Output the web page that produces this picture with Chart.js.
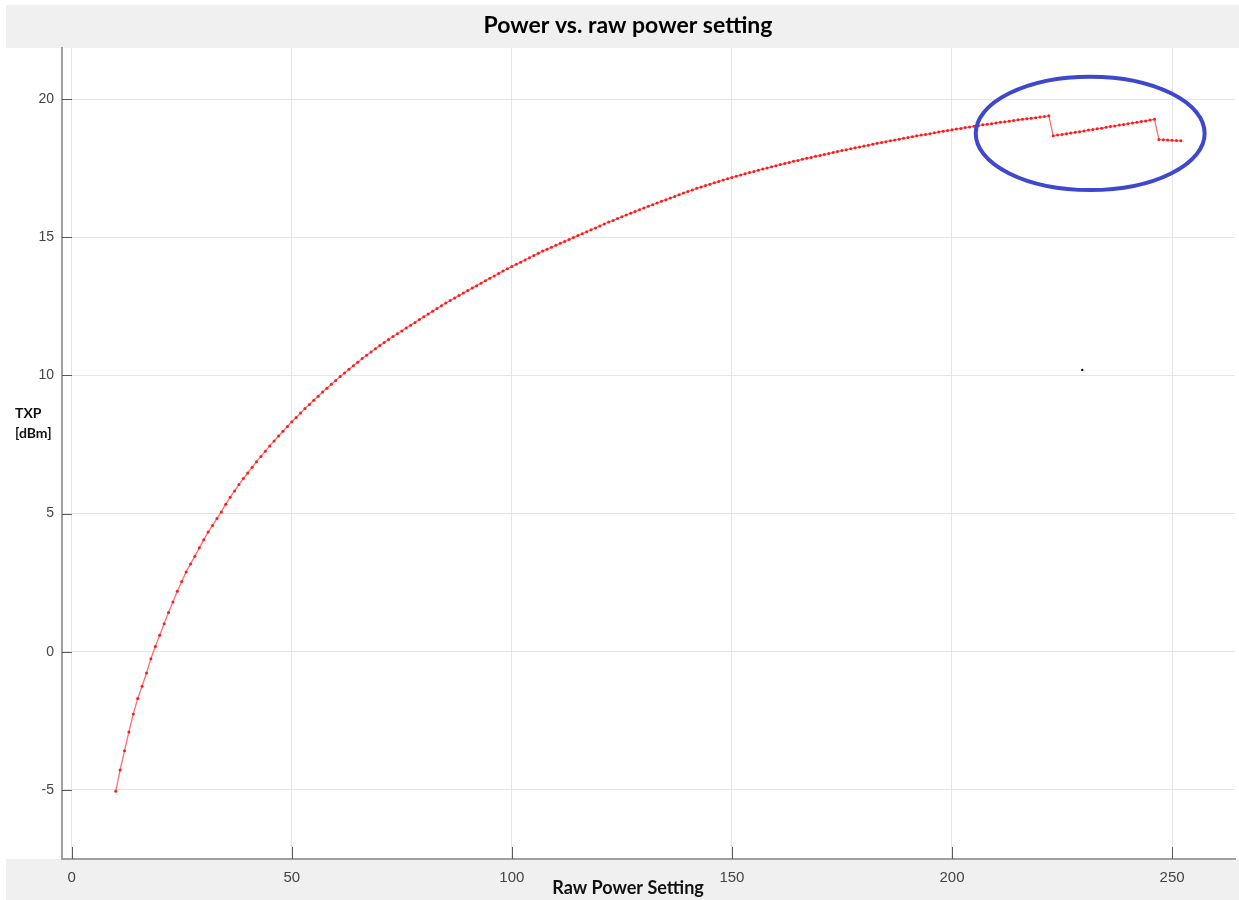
<!DOCTYPE html>
<html>
<head>
<meta charset="utf-8">
<script src="https://cdn.jsdelivr.net/npm/chart.js@4"></script>
<style>
  html, body { margin: 0; padding: 0; background: #fff; }
  #wrap { width: 1239px; height: 900px; }
</style>
</head>
<body>
<div id="wrap"><canvas id="myChart" width="1239" height="900"></canvas></div>
<script>
const rawSetting = [
  10, 11, 12, 13, 14, 15, 16, 17, 18, 19,
  20, 21, 22, 23, 24, 25, 26, 27, 28, 29,
  30, 31, 32, 33, 34, 35, 36, 37, 38, 39,
  40, 41, 42, 43, 44, 45, 46, 47, 48, 49,
  50, 51, 52, 53, 54, 55, 56, 57, 58, 59,
  60, 61, 62, 63, 64, 65, 66, 67, 68, 69,
  70, 71, 72, 73, 74, 75, 76, 77, 78, 79,
  80, 81, 82, 83, 84, 85, 86, 87, 88, 89,
  90, 91, 92, 93, 94, 95, 96, 97, 98, 99,
  100, 101, 102, 103, 104, 105, 106, 107, 108, 109,
  110, 111, 112, 113, 114, 115, 116, 117, 118, 119,
  120, 121, 122, 123, 124, 125, 126, 127, 128, 129,
  130, 131, 132, 133, 134, 135, 136, 137, 138, 139,
  140, 141, 142, 143, 144, 145, 146, 147, 148, 149,
  150, 151, 152, 153, 154, 155, 156, 157, 158, 159,
  160, 161, 162, 163, 164, 165, 166, 167, 168, 169,
  170, 171, 172, 173, 174, 175, 176, 177, 178, 179,
  180, 181, 182, 183, 184, 185, 186, 187, 188, 189,
  190, 191, 192, 193, 194, 195, 196, 197, 198, 199,
  200, 201, 202, 203, 204, 205, 206, 207, 208, 209,
  210, 211, 212, 213, 214, 215, 216, 217, 218, 219,
  220, 221, 222, 223, 224, 225, 226, 227, 228, 229,
  230, 231, 232, 233, 234, 235, 236, 237, 238, 239,
  240, 241, 242, 243, 244, 245, 246, 247, 248, 249,
  250, 251, 252
];

const txpDbm = [
  -5.05, -4.28, -3.58, -2.90, -2.25, -1.69, -1.25, -0.77, -0.25, 0.19,
  0.60, 1.01, 1.42, 1.80, 2.19, 2.54, 2.89, 3.18, 3.46, 3.76,
  4.05, 4.33, 4.57, 4.82, 5.06, 5.34, 5.59, 5.82, 6.05, 6.27,
  6.47, 6.68, 6.88, 7.07, 7.26, 7.45, 7.63, 7.81, 7.98, 8.15,
  8.32, 8.48, 8.64, 8.80, 8.95, 9.10, 9.25, 9.40, 9.54, 9.68,
  9.82, 9.96, 10.09, 10.22, 10.35, 10.48, 10.61, 10.73, 10.85, 10.97,
  11.08, 11.19, 11.30, 11.41, 11.51, 11.61, 11.72, 11.82, 11.92, 12.02,
  12.12, 12.22, 12.32, 12.42, 12.52, 12.62, 12.71, 12.80, 12.89, 12.98,
  13.07, 13.16, 13.25, 13.34, 13.43, 13.52, 13.60, 13.69, 13.78, 13.86,
  13.94, 14.02, 14.10, 14.18, 14.26, 14.34, 14.42, 14.50, 14.57, 14.64,
  14.71, 14.78, 14.85, 14.92, 14.99, 15.06, 15.13, 15.20, 15.27, 15.34,
  15.41, 15.48, 15.55, 15.61, 15.68, 15.74, 15.81, 15.87, 15.93, 16.00,
  16.06, 16.12, 16.18, 16.24, 16.30, 16.36, 16.42, 16.48, 16.54, 16.60,
  16.66, 16.71, 16.77, 16.82, 16.87, 16.92, 16.97, 17.02, 17.07, 17.12,
  17.16, 17.21, 17.25, 17.30, 17.34, 17.38, 17.43, 17.47, 17.51, 17.55,
  17.59, 17.63, 17.67, 17.71, 17.75, 17.78, 17.82, 17.86, 17.89, 17.93,
  17.96, 18.00, 18.03, 18.07, 18.10, 18.14, 18.17, 18.20, 18.24, 18.27,
  18.30, 18.33, 18.37, 18.40, 18.43, 18.46, 18.49, 18.52, 18.55, 18.58,
  18.61, 18.64, 18.67, 18.70, 18.72, 18.75, 18.78, 18.81, 18.84, 18.86,
  18.89, 18.92, 18.94, 18.97, 18.99, 19.02, 19.04, 19.07, 19.09, 19.11,
  19.14, 19.16, 19.18, 19.20, 19.23, 19.25, 19.27, 19.29, 19.31, 19.33,
  19.35, 19.37, 19.40, 18.67, 18.70, 18.72, 18.75, 18.77, 18.80, 18.82,
  18.85, 18.88, 18.90, 18.93, 18.95, 18.98, 19.01, 19.03, 19.06, 19.08,
  19.11, 19.14, 19.16, 19.19, 19.21, 19.24, 19.27, 18.54, 18.53, 18.52,
  18.51, 18.50, 18.49
];

const xTicks = [0, 50, 100, 150, 200, 250];
const yTicks = [-5, 0, 5, 10, 15, 20];

// the stray black speck in the screenshot (data units)
const strayX = [229.6];
const strayY = [10.2];

// hand drawn blue ring around the steps (data units)
const ring = { cx: 231.4, cy: 18.76, rx: 26.0, ry: 2.05 };

const ctx = document.getElementById("myChart");

const frame = {
  id: "frame",
  beforeDraw(chart) {
    const c = chart.ctx;
    const a = chart.chartArea;
    c.save();
    c.fillStyle = "#ffffff";
    c.fillRect(0, 0, chart.width, chart.height);
    c.fillStyle = "#f0f0f0";
    c.fillRect(6, 5, chart.width - 6, a.top - 5);
    c.fillRect(6, a.bottom, chart.width - 6, chart.height - a.bottom);
    c.restore();
  },
  afterDatasetsDraw(chart) {
    const c = chart.ctx;
    const a = chart.chartArea;
    const xs = chart.scales.x;
    const ys = chart.scales.y;
    c.save();
    // ticks drawn inside the axes
    c.strokeStyle = "#5a5a5a";
    c.lineWidth = 1;
    yTicks.forEach((v) => {
      const py = Math.round(ys.getPixelForValue(v)) + 0.5;
      c.beginPath();
      c.moveTo(a.left, py);
      c.lineTo(a.left + 10, py);
      c.stroke();
    });
    xTicks.forEach((v) => {
      const px = Math.round(xs.getPixelForValue(v)) + 0.5;
      c.beginPath();
      c.moveTo(px, a.bottom - 12);
      c.lineTo(px, a.bottom);
      c.stroke();
    });
    // blue ring
    const cx = xs.getPixelForValue(ring.cx);
    const cy = ys.getPixelForValue(ring.cy);
    const rx = xs.getPixelForValue(ring.cx + ring.rx) - cx;
    const ry = cy - ys.getPixelForValue(ring.cy + ring.ry);
    c.strokeStyle = "#3f48cc";
    c.lineWidth = 4;
    c.beginPath();
    c.ellipse(cx, cy, rx, ry, 0, 0, Math.PI * 2);
    c.stroke();
    c.restore();
  },
  afterDraw(chart) {
    const c = chart.ctx;
    c.save();
    c.fillStyle = "#000000";
    c.textAlign = "center";
    c.textBaseline = "middle";
    c.font = "bold 23px Lato";
    c.fillText("Power vs. raw power setting", 628, 26);
    c.fillStyle = "#111111";
    c.font = "bold 18px Lato";
    c.fillText("Raw Power Setting", 628, 888);
    c.textAlign = "left";
    c.font = "bold 14px Lato";
    c.fillText("TXP", 15, 413);
    c.fillText("[dBm]", 15, 433);
    c.restore();
  },
};

new Chart(ctx, {
  type: "line",
  data: {
    datasets: [
      {
        label: "TXP",
        data: rawSetting.map((r, i) => ({ x: r, y: txpDbm[i] })),
        borderColor: "rgba(255, 50, 50, 0.7)",
        borderWidth: 1.3,
        pointRadius: 1.5,
        pointBorderWidth: 0,
        pointBackgroundColor: "#ff1a1a",
        tension: 0,
      },
      {
        label: "speck",
        data: strayX.map((v, i) => ({ x: v, y: strayY[i] })),
        showLine: false,
        pointRadius: 1.2,
        pointBorderWidth: 0,
        pointBackgroundColor: "#000000",
      },
    ],
  },
  options: {
    responsive: false,
    maintainAspectRatio: false,
    animation: false,
    layout: { padding: { top: 48, right: 2, left: 0, bottom: 0 } },
    plugins: {
      legend: { display: false },
      tooltip: { enabled: false },
      title: { display: false },
    },
    scales: {
      x: {
        type: "linear",
        min: -2.2,
        max: 264.3,
        afterFit: (s) => { s.height = 41; },
        afterBuildTicks: (s) => { s.ticks = xTicks.map((v) => ({ value: v })); },
        grid: { color: "#e6e6e6", lineWidth: 1, drawTicks: false },
        border: { display: true, color: "#a0a0a0", width: 2 },
        ticks: {
          padding: 10,
          color: "#444444",
          font: { family: "Liberation Sans", size: 15 },
          maxRotation: 0,
        },
      },
      y: {
        type: "linear",
        min: -7.5,
        max: 21.85,
        afterFit: (s) => { s.width = 62; },
        afterBuildTicks: (s) => { s.ticks = yTicks.map((v) => ({ value: v })); },
        grid: { color: "#e6e6e6", lineWidth: 1, drawTicks: false },
        border: { display: true, color: "#a0a0a0", width: 2 },
        ticks: {
          padding: 8,
          color: "#444444",
          font: { family: "Liberation Sans", size: 14 },
        },
      },
    },
  },
  plugins: [frame],
});
</script>
</body>
</html>
